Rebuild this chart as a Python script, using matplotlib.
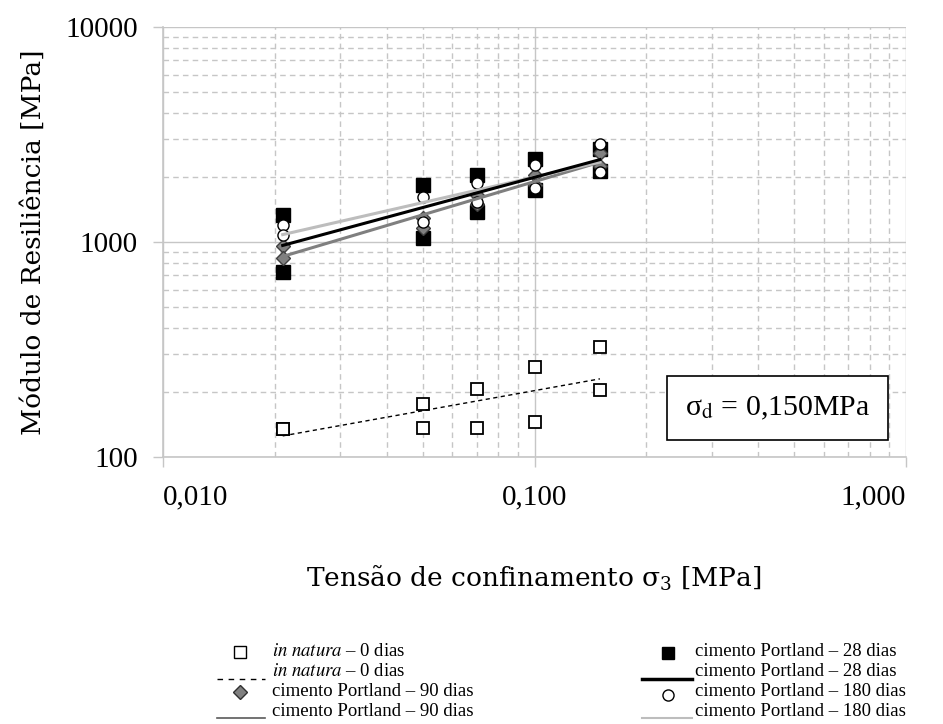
import numpy as np
import matplotlib
matplotlib.use('Agg')
import matplotlib.pyplot as plt
from matplotlib.lines import Line2D
from matplotlib.ticker import FixedLocator, LogLocator, NullFormatter

# confining stress levels (MPa)
sigma3 = [0.021, 0.05, 0.07, 0.10, 0.15]

# resilient modulus (MPa), two specimens per stress level
natura_a = [135, 176, 207, 262, 325]
natura_b = [135, 136, 136, 145, 205]
cp28_a = [1330, 1850, 2060, 2430, 2700]
cp28_b = [725, 1040, 1380, 1746, 2150]
cp90_a = [960, 1300, 1650, 2050, 2600]
cp90_b = [840, 1162, 1500, 1850, 2250]
cp180_a = [1200, 1620, 1880, 2280, 2850]
cp180_b = [1078, 1239, 1535, 1784, 2117]

xticks = [0.01, 0.1, 1.0]
xtick_labels = ['0,010', '0,100', '1,000']
yticks = [100, 1000, 10000]
ytick_labels = ['100', '1000', '10000']

W, H = 943, 724
fig = plt.figure(figsize=(W / 100, H / 100), dpi=100)
ax = fig.add_axes([163 / W, 1 - 457 / H, (906 - 163) / W, (457 - 27) / H])

serif = ['Liberation Serif', 'DejaVu Serif']
grid_c = '#c6c6c6'


def power_fit(x, ya, yb):
    xs = np.log10(np.concatenate([x, x]))
    ys = np.log10(np.concatenate([ya, yb]))
    b, a = np.polyfit(xs, ys, 1)
    xx = np.logspace(np.log10(min(x)), np.log10(max(x)), 50)
    return xx, 10 ** (a + b * np.log10(xx))


x = np.array(sigma3)

# in natura: open squares
for ys in (natura_a, natura_b):
    ax.plot(x, ys, ls='none', marker='s', ms=8.5, mfc='white', mec='black', mew=1.3, zorder=4)
# Portland cement 28 days: black squares
for ys in (cp28_a, cp28_b):
    ax.plot(x, ys, ls='none', marker='s', ms=9.5, mfc='black', mec='black', zorder=4)
# 90 days: grey diamonds
for ys in (cp90_a, cp90_b):
    ax.plot(x, ys, ls='none', marker='D', ms=7.5, mfc='#808080', mec='#404040', mew=1, zorder=5)
# 180 days: open circles
for ys in (cp180_a, cp180_b):
    ax.plot(x, ys, ls='none', marker='o', ms=8, mfc='white', mec='black', mew=1, zorder=6)

# power-law trend lines
xx, yy = power_fit(x, natura_a, natura_b)
ax.plot(xx, yy, color='black', lw=1, ls=(0, (3, 2.5)), zorder=7)
xx, yy = power_fit(x, cp90_a, cp90_b)
ax.plot(xx, yy, color='#7f7f7f', lw=2.2, zorder=7)
xx, yy = power_fit(x, cp180_a, cp180_b)
ax.plot(xx, yy, color='#bdbdbd', lw=2.2, zorder=7)
xx, yy = power_fit(x, cp28_a, cp28_b)
ax.plot(xx, yy, color='black', lw=2.2, zorder=8)

ax.set_xscale('log')
ax.set_yscale('log')
ax.set_xlim(0.01, 1)
ax.set_ylim(100, 10000)

ax.xaxis.set_major_locator(FixedLocator(xticks))
ax.yaxis.set_major_locator(FixedLocator(yticks))
ax.xaxis.set_minor_locator(LogLocator(base=10, subs=np.arange(2, 10)))
ax.yaxis.set_minor_locator(LogLocator(base=10, subs=np.arange(2, 10)))
ax.xaxis.set_minor_formatter(NullFormatter())
ax.yaxis.set_minor_formatter(NullFormatter())
ax.set_xticklabels(xtick_labels, family=serif, fontsize=21)
ax.set_yticklabels(ytick_labels, family=serif, fontsize=21)
labs = ax.get_xticklabels()
labs[0].set_ha('left')
labs[0].set_x(0.0107)
labs[-1].set_ha('right')

ax.tick_params(which='major', direction='out', length=7, width=1, color=grid_c)
ax.tick_params(axis='x', which='major', pad=13)
ax.tick_params(axis='y', which='major', pad=11)
ax.tick_params(which='minor', length=0)

ax.grid(which='major', color=grid_c, lw=1, ls='-')
ax.grid(which='minor', color=grid_c, lw=1, ls=(0, (4, 3)))
ax.set_axisbelow(True)
for side in ('top', 'right'):
    ax.spines[side].set_visible(False)
for side in ('left', 'bottom'):
    ax.spines[side].set_color(grid_c)
    ax.spines[side].set_linewidth(1.2)

ax.set_ylabel('Módulo de Resiliência [MPa]', family='DejaVu Serif', fontsize=19, labelpad=14)
fig.text(534 / W, 1 - 578 / H, 'Tensão de confinamento σ$_3$ [MPa]',
         family='DejaVu Serif', fontsize=19, ha='center', va='center',
         math_fontfamily='dejavuserif')

ax.text(0.827, 0.114, 'σ$_\\mathrm{d}$ = 0,150MPa', transform=ax.transAxes,
        family=serif, fontsize=21.5, ha='center', va='center', math_fontfamily='stix',
        bbox=dict(boxstyle='square,pad=0.6', fc='white', ec='black', lw=1.2), zorder=10)


# legend below the axes
def fx(px):
    return px / W


def fy(py):
    return 1 - py / H


def leg_marker(px, py, **kw):
    fig.add_artist(Line2D([fx(px)], [fy(py)], transform=fig.transFigure, ls='none', **kw))


def leg_line(x0, x1, py, **kw):
    fig.add_artist(Line2D([fx(x0), fx(x1)], [fy(py), fy(py)], transform=fig.transFigure, **kw))


def leg_text(px, py, s):
    fig.text(fx(px), fy(py), s, family=serif, fontsize=13.5, ha='left', va='center',
             math_fontfamily='stix')


natura_lbl = r'$\it{in\ natura}$ – 0 dias'
leg_marker(240, 652, marker='s', ms=9, mfc='white', mec='black', mew=1)
leg_text(272, 651, natura_lbl)
leg_line(217, 265, 679, color='black', lw=1, ls=(0, (4, 4)))
leg_text(272, 671, natura_lbl)
leg_marker(240, 692, marker='D', ms=7, mfc='#808080', mec='#303030', mew=1)
leg_text(272, 691, 'cimento Portland – 90 dias')
leg_line(217, 265, 718, color='#5a5a5a', lw=1.2)
leg_text(272, 711, 'cimento Portland – 90 dias')

leg_marker(668, 653, marker='s', ms=9, mfc='black', mec='black')
leg_text(695, 651, 'cimento Portland – 28 dias')
leg_line(642, 692, 679, color='black', lw=2.5)
leg_text(695, 671, 'cimento Portland – 28 dias')
leg_marker(668, 695, marker='o', ms=8, mfc='white', mec='black', mew=1)
leg_text(695, 691, 'cimento Portland – 180 dias')
leg_line(642, 692, 718, color='#bdbdbd', lw=1.5)
leg_text(695, 711, 'cimento Portland – 180 dias')

fig.savefig('out.png', dpi=100, facecolor='white')
